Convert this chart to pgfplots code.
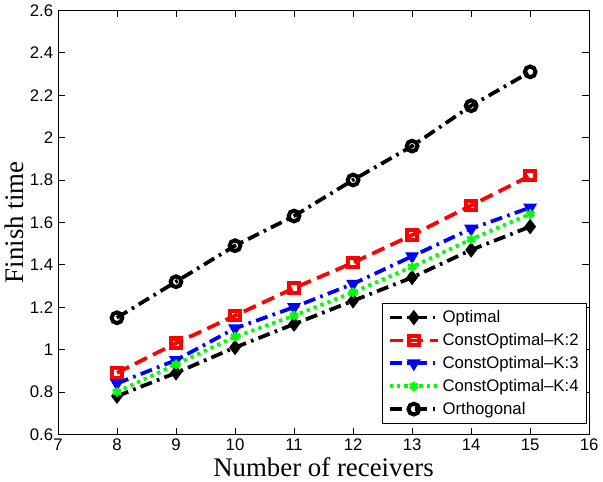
\documentclass[border=0pt]{standalone}
\usepackage{fontspec}
\setmainfont{Liberation Serif}
\setsansfont{Liberation Sans}
\usepackage{pgfplots}
\pgfplotsset{compat=1.18}

\begin{document}
\begin{tikzpicture}
\begin{axis}[
  scale only axis,
  width=396pt, height=316pt,
  xmin=7, xmax=16, ymin=0.6, ymax=2.6,
  xtick={7,...,16},
  ytick={0.6,0.8,...,2.61},
  tick align=inside,
  major tick length=5pt,
  tick style={black, line width=0.5pt},
  axis line style={line width=0.6pt},
  /pgf/number format/assume math mode=true,
  ticklabel style={font=\sffamily\fontsize{12.5}{14}\selectfont},
  xlabel={Number of receivers},
  ylabel={Finish time},
  label style={font=\fontsize{20}{22}\selectfont},
  xlabel style={yshift=2pt},
  ylabel style={yshift=-2pt},
  legend style={at={(0.996,0.026)}, anchor=south east,
    font=\sffamily\fontsize{12.5}{14}\selectfont,
    draw=black, line width=0.6pt, row sep=2.5pt,
    inner xsep=4pt, inner ysep=3pt},
  legend cell align=left,
  legend image code/.code={\draw[mark repeat=2, mark phase=2, #1]
    plot coordinates {(0pt,0pt) (18pt,0pt) (36pt,0pt)};},
  every axis plot/.append style={line width=2.8pt},
]
\addplot[black, dash pattern=on 9pt off 4pt on 2pt off 4pt,
  mark=diamond*, mark size=5pt, mark options={solid, fill=black, line width=1pt}]
  coordinates {(8,0.78) (9,0.89) (10,1.01) (11,1.12) (12,1.23) (13,1.34) (14,1.47) (15,1.58)};
\addlegendentry{Optimal}
\addplot[red, dash pattern=on 10pt off 5pt,
  mark=square, mark size=3.5pt, mark options={solid, fill=white, line width=3pt}]
  coordinates {(8,0.89) (9,1.03) (10,1.16) (11,1.29) (12,1.41) (13,1.54) (14,1.68) (15,1.82)};
\addlegendentry{ConstOptimal--K:2}
\addplot[blue, dash pattern=on 9pt off 4pt on 2pt off 4pt,
  mark=triangle*, mark size=5pt, mark options={solid, rotate=180, fill=blue, line width=1pt}]
  coordinates {(8,0.84) (9,0.95) (10,1.10) (11,1.20) (12,1.31) (13,1.44) (14,1.57) (15,1.67)};
\addlegendentry{ConstOptimal--K:3}
\addplot[green, dash pattern=on 2.5pt off 3pt,
  mark=asterisk, mark size=3.5pt, mark options={solid, line width=2pt}]
  coordinates {(8,0.80) (9,0.93) (10,1.06) (11,1.16) (12,1.27) (13,1.39) (14,1.52) (15,1.64)};
\addlegendentry{ConstOptimal--K:4}
\addplot[black, dash pattern=on 9pt off 4pt on 2pt off 4pt,
  mark=o, mark size=4pt, mark options={solid, fill=white, line width=3pt}]
  coordinates {(8,1.15) (9,1.32) (10,1.49) (11,1.63) (12,1.80) (13,1.96) (14,2.15) (15,2.31)};
\addlegendentry{Orthogonal}
\end{axis}
\end{tikzpicture}
\end{document}
